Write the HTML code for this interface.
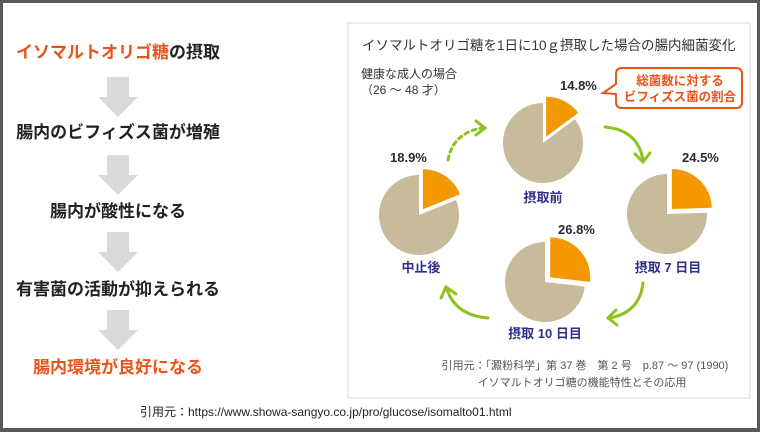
<!DOCTYPE html>
<html><head><meta charset="utf-8"><style>
html,body{margin:0;padding:0;background:#fff}
body{width:760px;height:432px;overflow:hidden;position:relative;font-family:"Liberation Sans","Noto Sans CJK JP",sans-serif}
#frame{position:absolute;left:0;top:0;width:754px;height:425px;border:3px solid #5a5a5a;border-bottom-width:4px;}
svg{position:absolute;left:0;top:0}
</style></head><body>
<div id="frame"></div>
<svg id="s" width="760" height="432" viewBox="0 0 760 432" font-family="Liberation Sans, Noto Sans CJK JP, sans-serif">
<rect x="348" y="23" width="402" height="375" fill="#fff" stroke="#d8d8d8" stroke-width="1"/>
<g font-weight="bold" font-size="17" text-anchor="middle">
<text x="118" y="58"><tspan fill="#e8541c">イソマルトオリゴ糖</tspan><tspan fill="#222">の摂取</tspan></text>
<text x="118" y="138" fill="#222">腸内のビフィズス菌が増殖</text>
<text x="118" y="217" fill="#222">腸内が酸性になる</text>
<text x="118" y="295" fill="#222">有害菌の活動が抑えられる</text>
<text x="118" y="373" fill="#e8541c">腸内環境が良好になる</text>
</g>
<g fill="#d9d9d9" id="arrows"></g>
<text x="140" y="416" font-size="12" fill="#222">引用元：https://www.showa-sangyo.co.jp/pro/glucose/isomalto01.html</text>
<text x="362" y="50" font-size="13.5" fill="#333">イソマルトオリゴ糖を1日に10ｇ摂取した場合の腸内細菌変化</text>
<text x="361" y="78" font-size="12" fill="#333">健康な成人の場合</text>
<text x="361" y="94" font-size="12" fill="#333">（26 ～ 48 才）</text>
<g id="pies"></g>
<g font-weight="bold" font-size="13" fill="#2b2b2b">
<text x="560" y="90">14.8%</text>
<text x="390" y="162">18.9%</text>
<text x="682" y="162">24.5%</text>
<text x="558" y="234">26.8%</text>
</g>
<g font-weight="bold" font-size="13" fill="#2e2e8c" text-anchor="middle">
<text x="543" y="202">摂取前</text>
<text x="421" y="272">中止後</text>
<text x="668" y="272">摂取 7 日目</text>
<text x="545" y="338">摂取 10 日目</text>
</g>
<path d="M603,93 L616,84 L616,74 Q616,68 622,68 L736,68 Q742,68 742,74 L742,102 Q742,108 736,108 L622,108 Q616,108 616,102 L616,94 Z" fill="#fff" stroke="#e8541c" stroke-width="2"/>
<g font-weight="bold" font-size="12.5" fill="#e8541c" text-anchor="middle">
<text x="680" y="85">総菌数に対する</text>
<text x="680" y="101">ビフィズス菌の割合</text>
</g>
<g fill="none" stroke="#8dc21f" stroke-width="3" stroke-linecap="round">
<path d="M448,160 Q453,133 482,128" stroke-dasharray="4,4"/>
<path d="M476,121 L485,128 L476,135"/>
<path d="M605,127 Q638,130 643,160"/>
<path d="M635,154 L643,162 L650,153"/>
<path d="M643,283 Q640,312 610,318"/>
<path d="M616,310 L608,318 L617,325"/>
<path d="M488,318 Q455,315 447,289"/>
<path d="M441,298 L446,287 L456,294"/>
</g>
<g font-size="11" fill="#555" text-anchor="middle">
<text x="585" y="369">引用元：「澱粉科学」第 37 巻　第 2 号　p.87 ～ 97 (1990)</text>
<text x="582" y="386">イソマルトオリゴ糖の機能特性とその応用</text>
</g>
</svg>
<script>
var NS="http://www.w3.org/2000/svg";
var ar=document.getElementById("arrows");
[77,155,232,310].forEach(function(y){
 var p=document.createElementNS(NS,"path");
 p.setAttribute("d","M107,"+y+" L129,"+y+" L129,"+(y+20)+" L138,"+(y+20)+" L118,"+(y+40)+" L98,"+(y+20)+" L107,"+(y+20)+" Z");
 ar.appendChild(p);
});
var pies=document.getElementById("pies");
function pt(cx,cy,r,a){a=a*Math.PI/180;return [cx+r*Math.sin(a),cy-r*Math.cos(a)];}
function sector(cx,cy,r,a0,a1,fill){
 var p0=pt(cx,cy,r,a0),p1=pt(cx,cy,r,a1);
 var large=(a1-a0)>180?1:0;
 var p=document.createElementNS(NS,"path");
 p.setAttribute("d","M"+cx+","+cy+" L"+p0[0]+","+p0[1]+" A"+r+","+r+" 0 "+large+" 1 "+p1[0]+","+p1[1]+" Z");
 p.setAttribute("fill",fill);pies.appendChild(p);
}
function pie(cx,cy,r,pct){
 var a=pct*3.6;
 sector(cx,cy,r,a,360,"#c8bb9b");
 var mid=a/2, o=pt(0,0,7,mid);
 sector(cx+o[0],cy+o[1],r,0,a,"#f39800");
}
pie(543,143,40,14.8);
pie(419,215,40,18.9);
pie(667,214,40,24.5);
pie(545,282,40,26.8);
</script>
</body></html>
